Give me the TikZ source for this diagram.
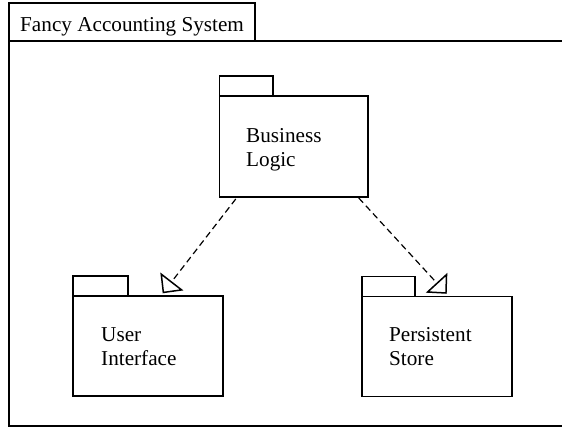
\documentclass[tikz,border=0pt]{standalone}
\usepackage{fontspec}
\setmainfont{Liberation Serif}
\usetikzlibrary{arrows.meta}
\tikzset{
  frameline/.style={draw=black, line width=1.3pt},
  pkgbody/.style={draw=black, line width=1.5pt, inner sep=0pt, outer sep=0pt, minimum width=150pt, minimum height=100pt},
  pkgtab/.style={draw=black, line width=1.5pt},
  lbl/.style={font=\fontsize{21.2}{24}\selectfont, align=left, inner sep=0pt, anchor=base west},
  dep/.style={draw=black, line width=1.2pt, dash pattern=on 6.5pt off 4pt,
    -{Triangle[open, length=15pt, width=29pt, line width=1.5pt]}}
}
\begin{document}
\begin{tikzpicture}[x=1pt, y=-1pt]
\useasboundingbox (0,0) rectangle (562,427);
% outer frame
\draw[frameline] (9,41) rectangle (640,426);
\draw[frameline] (9,41) rectangle (255,3);
\node[lbl] (title) at (20,32) {Fancy Accounting System};
% packages
\node[pkgbody, minimum width=148.5pt, minimum height=101pt] (bl) at (293.75,146.5) {};
\draw[pkgtab] (bl.north west) rectangle ++(53.5,-20);
\node[lbl] (bltext) at (246,167) {Business\\Logic};

\node[pkgbody] (ui) at (148,346) {};
\draw[pkgtab] (ui.north west) rectangle ++(55,-20);
\node[lbl] (uitext) at (101,366) {User\\Interface};

\node[pkgbody] (ps) at (437,346.5) {};
\draw[pkgtab] (ps.north west) rectangle ++(53,-20);
\node[lbl] (pstext) at (389,366) {Persistent\\Store};
% dependencies
\draw[dep] ([xshift=-58pt, yshift=-2pt]bl.south) -- ([xshift=14.7pt, yshift=2.7pt]ui.north);
\draw[dep] ([xshift=65pt, yshift=-1pt]bl.south) -- ([xshift=9.7pt, yshift=2.7pt]ps.north);
\end{tikzpicture}
\end{document}
